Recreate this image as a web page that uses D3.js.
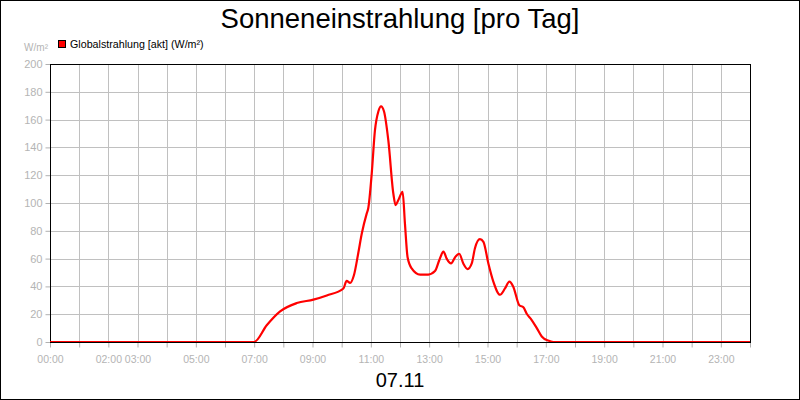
<!DOCTYPE html>
<html>
<head>
<meta charset="utf-8">
<script src="https://cdn.jsdelivr.net/npm/d3@7"></script>
<style>
  body { margin: 0; background: #fff; }
  svg { display: block; font-family: "Liberation Sans", Arial, sans-serif; }
</style>
</head>
<body>
<div id="chart"></div>
<script>
// data (hour of day, W/m²)
var hours = [0, 7.0, 7.43, 7.89, 8.46, 9.03, 9.49, 10.06, 10.17, 10.29, 10.42, 10.57, 10.69, 10.86, 10.91,
  11.03, 11.14, 11.26, 11.35, 11.45, 11.6, 11.77, 11.85, 11.94, 12.09, 12.17, 12.26, 12.4, 12.69, 12.97,
  13.2, 13.35, 13.49, 13.6, 13.75, 13.89, 14.03, 14.17, 14.32, 14.46, 14.57, 14.74, 14.86, 15.03, 15.2,
  15.43, 15.6, 15.75, 15.88, 16.09, 16.23, 16.34, 16.51, 16.69, 16.86, 17.08, 17.26, 24]
var values = [0, 0, 12, 22, 28, 30.5, 33.5, 38.5, 44, 42.5, 48, 64, 78, 92.5, 96,
  121, 152, 166, 169.5, 166, 145, 107, 98.5, 102, 108, 85, 61, 53, 48.5, 48.5,
  51, 59, 65, 60, 56.5, 61, 63.5, 56.5, 52.5, 56.5, 67.5, 74, 72, 56.5, 43.5,
  34, 38.5, 43.5, 40, 26.5, 25, 20.5, 16, 10, 4, 1, 0, 0]
var yTicks = [0, 20, 40, 60, 80, 100, 120, 140, 160, 180, 200]
var xLabels = ["00:00", "02:00", "03:00", "05:00", "07:00", "09:00", "11:00", "13:00", "15:00", "17:00", "19:00", "21:00", "23:00"]
var xLabelHours = [0, 2, 3, 5, 7, 9, 11, 13, 15, 17, 19, 21, 23]

var width = 800, height = 400
var padL = 50, padR = 750, padT = 64, padB = 342

var svg = d3.select("#chart").append("svg")
    .attr("width", width)
    .attr("height", height)

svg.append("rect")
    .attr("x", 0.5).attr("y", 0.5)
    .attr("width", width - 1).attr("height", height - 1)
    .attr("fill", "#fff").attr("stroke", "#000")

var x = d3.scaleLinear().domain([0, 24]).range([padL, padR])
var y = d3.scaleLinear().domain([0, 200]).range([padB, padT])

// grid
svg.append("g").selectAll("line")
    .data(d3.range(1, 24))
    .enter().append("line")
    .attr("x1", function(d) { return Math.round(x(d)) + 0.5 })
    .attr("x2", function(d) { return Math.round(x(d)) + 0.5 })
    .attr("y1", padT).attr("y2", padB)
    .attr("stroke", "#c0c0c0")

svg.append("g").selectAll("line")
    .data(yTicks.slice(1, -1))
    .enter().append("line")
    .attr("x1", padL).attr("x2", padR)
    .attr("y1", function(d) { return Math.round(y(d)) + 0.5 })
    .attr("y2", function(d) { return Math.round(y(d)) + 0.5 })
    .attr("stroke", "#c0c0c0")

// x axis
var xAxis = d3.axisBottom(x)
    .tickValues(d3.range(0, 25))
    .tickSize(5)
    .tickFormat(function(d) {
      var i = xLabelHours.indexOf(d)
      return i < 0 ? "" : xLabels[i]
    })
var gx = svg.append("g")
    .attr("transform", "translate(0," + (padB + 0.5) + ")")
    .call(xAxis)
gx.select(".domain").remove()
gx.selectAll(".tick line").attr("stroke", "#b0b0b0")
gx.selectAll(".tick text")
    .attr("fill", "#b4b4b4")
    .attr("dy", "1.15em")
    .style("font-size", "10.5px")
    .style("font-family", "Liberation Sans, Arial, sans-serif")

// y axis
var yAxis = d3.axisLeft(y).tickValues(yTicks).tickSize(5).tickPadding(3)
var gy = svg.append("g")
    .attr("transform", "translate(" + (padL + 0.5) + ",0)")
    .call(yAxis)
gy.select(".domain").remove()
gy.selectAll(".tick line").attr("stroke", "#b0b0b0")
gy.selectAll(".tick text")
    .attr("fill", "#b4b4b4")
    .style("font-size", "11px")
    .style("font-family", "Liberation Sans, Arial, sans-serif")

// plot frame
svg.append("rect")
    .attr("x", padL + 0.5).attr("y", padT + 0.5)
    .attr("width", padR - padL).attr("height", padB - padT)
    .attr("fill", "none").attr("stroke", "#000")

// line
var line = d3.line()
    .x(function(d, i) { return x(hours[i]) })
    .y(function(d) { return y(d) })
    .curve(d3.curveMonotoneX)

svg.append("path")
    .datum(values)
    .attr("d", line)
    .attr("fill", "none")
    .attr("stroke", "#ff0000")
    .attr("stroke-width", 2.2)
    .attr("stroke-linejoin", "round")

// bottom axis line drawn above curve's zero
svg.append("line")
    .attr("x1", padL).attr("x2", padR + 1)
    .attr("y1", padB + 0.5).attr("y2", padB + 0.5)
    .attr("stroke", "#000")

// texts
svg.append("text")
    .attr("x", 400).attr("y", 28)
    .attr("text-anchor", "middle")
    .style("font-size", "27.5px")
    .text("Sonneneinstrahlung [pro Tag]")

svg.append("text")
    .attr("x", 400).attr("y", 387)
    .attr("text-anchor", "middle")
    .style("font-size", "20px")
    .text("07.11")

svg.append("text")
    .attr("x", 48).attr("y", 51)
    .attr("text-anchor", "end")
    .attr("fill", "#b4b4b4")
    .style("font-size", "10px")
    .text("W/m²")

svg.append("rect")
    .attr("x", 58.5).attr("y", 40.5)
    .attr("width", 7).attr("height", 7)
    .attr("fill", "#ff0000").attr("stroke", "#000")

svg.append("text")
    .attr("x", 70).attr("y", 48)
    .style("font-size", "10.7px")
    .text("Globalstrahlung [akt] (W/m²)")
</script>
</body>
</html>
